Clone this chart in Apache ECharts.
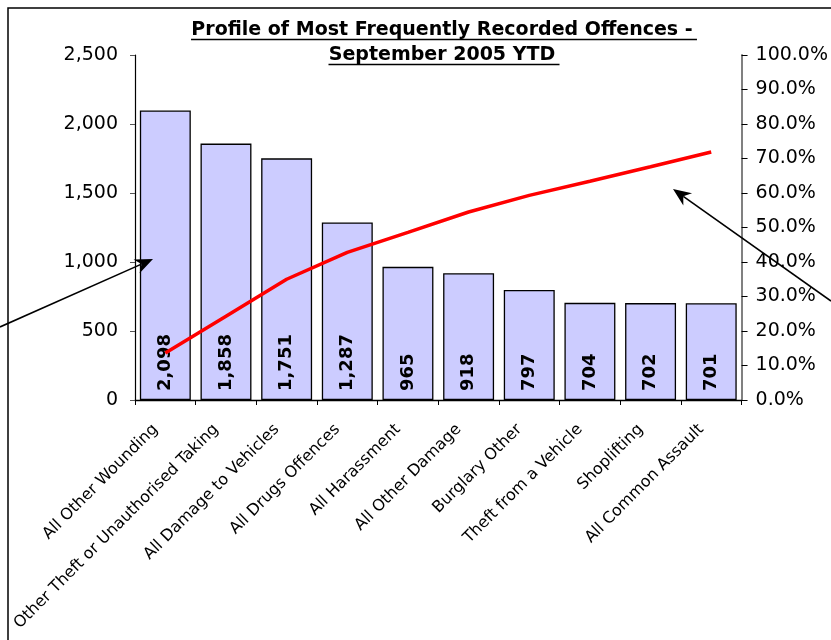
<!DOCTYPE html>
<html>
<head>
<meta charset="utf-8">
<title>Profile of Most Frequently Recorded Offences</title>
<script src="https://cdn.jsdelivr.net/npm/echarts@6/dist/echarts.min.js"></script>
<style>
  html, body { margin: 0; padding: 0; background: #fff; }
  #chart { width: 831px; height: 640px; }
</style>
</head>
<body>
<div id="chart"></div>
<script>
// 犯罪类别
const offences = [
  'All Other Wounding',
  'Other Theft or Unauthorised Taking',
  'All Damage to Vehicles',
  'All Drugs Offences',
  'All Harassment',
  'All Other Damage',
  'Burglary Other',
  'Theft from a Vehicle',
  'Shoplifting',
  'All Common Assault'
]
// 记录数量
const counts = [2098, 1858, 1751, 1287, 965, 918, 797, 704, 702, 701]
// 累计百分比 (红线, 从图上读出)
const cumulativePct = [13.6, 24.3, 35.0, 42.8, 48.6, 54.5, 59.3, 63.4, 67.6, 71.9]
// 标题
const titleLines = ['Profile of Most Frequently Recorded Offences -', 'September 2005 YTD']

const FONT = '"DejaVu Sans", Verdana, sans-serif'
const chart = echarts.init(document.getElementById('chart'))

// 量文字宽度, 给下划线用
const measure = (text, font) => {
  const ctx = document.createElement('canvas').getContext('2d')
  ctx.font = font
  return ctx.measureText(text).width
}

// 箭头
const arrow = (x1, y1, x2, y2) => {
  const a = Math.atan2(y2 - y1, x2 - x1)
  const c = Math.cos(a), s = Math.sin(a)
  const len = 18, half = 7.5
  const bx = x2 - len * c, by = y2 - len * s
  const nx = x2 - len * 0.7 * c, ny = y2 - len * 0.7 * s
  return [
    { type: 'line', shape: { x1, y1, x2: nx, y2: ny }, style: { stroke: '#000', lineWidth: 1.6 }, z: 100 },
    {
      type: 'polygon',
      shape: { points: [[x2, y2], [bx - half * s, by + half * c], [nx, ny], [bx + half * s, by - half * c]] },
      style: { fill: '#000' },
      z: 100
    }
  ]
}

const titleX = 442
const titleFont = 'bold 19px "DejaVu Sans"'
const titleGraphics = []
titleLines.forEach((t, i) => {
  const y = 30 + i * 25
  const w = measure(t + ' ', titleFont)
  titleGraphics.push({
    type: 'text',
    x: titleX,
    y: y,
    style: { text: t, font: titleFont, fill: '#000', align: 'center', verticalAlign: 'middle' },
    z: 100
  })
  titleGraphics.push({
    type: 'line',
    shape: { x1: titleX - w / 2 + 3, y1: y + 9.5, x2: titleX + w / 2 + 1, y2: y + 9.5 },
    style: { stroke: '#000', lineWidth: 1.5 },
    z: 100
  })
})

const option = {
  animation: false,
  backgroundColor: '#fff',
  textStyle: { fontFamily: FONT },
  grid: { left: 135, right: 89, top: 55, bottom: 240, containLabel: false },
  xAxis: {
    type: 'category',
    data: offences,
    axisLine: { lineStyle: { color: '#000', width: 1.3 } },
    axisTick: { show: true, length: 5, lineStyle: { color: '#000' } },
    axisLabel: {
      color: '#000',
      fontSize: 16,
      rotate: 45,
      margin: 17,
      padding: [0, 14, 0, 0],
      interval: 0,
      fontFamily: FONT
    }
  },
  yAxis: [
    {
      type: 'value',
      min: 0,
      max: 2500,
      interval: 500,
      splitLine: { show: false },
      axisLine: { show: true, lineStyle: { color: '#000', width: 1.2 } },
      axisTick: { show: true, length: 5, lineStyle: { color: '#555' } },
      axisLabel: {
        color: '#000',
        fontSize: 19,
        margin: 17,
        fontFamily: FONT,
        formatter: v => v.toLocaleString('en-US')
      }
    },
    {
      type: 'value',
      min: 0,
      max: 100,
      interval: 10,
      splitLine: { show: false },
      axisLine: { show: true, lineStyle: { color: '#808080', width: 2 } },
      axisTick: { show: true, length: 6, lineStyle: { color: '#000' } },
      axisLabel: {
        color: '#000',
        fontSize: 19,
        margin: 14,
        fontFamily: FONT,
        formatter: v => v.toFixed(1) + '%'
      }
    }
  ],
  series: [
    {
      name: 'Offences',
      type: 'bar',
      data: counts,
      barCategoryGap: '16%',
      itemStyle: { color: '#CCCCFF', borderColor: '#000', borderWidth: 1.3 },
      label: {
        show: true,
        position: 'insideBottom',
        rotate: 90,
        align: 'left',
        verticalAlign: 'middle',
        distance: 9,
        color: '#000',
        fontSize: 18,
        fontWeight: 'bold',
        fontFamily: FONT,
        formatter: p => p.value.toLocaleString('en-US')
      }
    },
    {
      name: 'Cumulative %',
      type: 'line',
      yAxisIndex: 1,
      data: cumulativePct,
      symbol: 'none',
      lineStyle: { color: '#FF0000', width: 3.5 },
      z: 5
    }
  ],
  graphic: [
    // 外框
    {
      type: 'polyline',
      shape: { points: [[8, 640], [8, 8], [831, 8]] },
      style: { stroke: '#000', lineWidth: 1.5, fill: null },
      z: 100
    },
    ...titleGraphics,
    ...arrow(0, 327, 153, 259),
    ...arrow(831, 301, 673, 189)
  ]
}

chart.setOption(option)
</script>
</body>
</html>
